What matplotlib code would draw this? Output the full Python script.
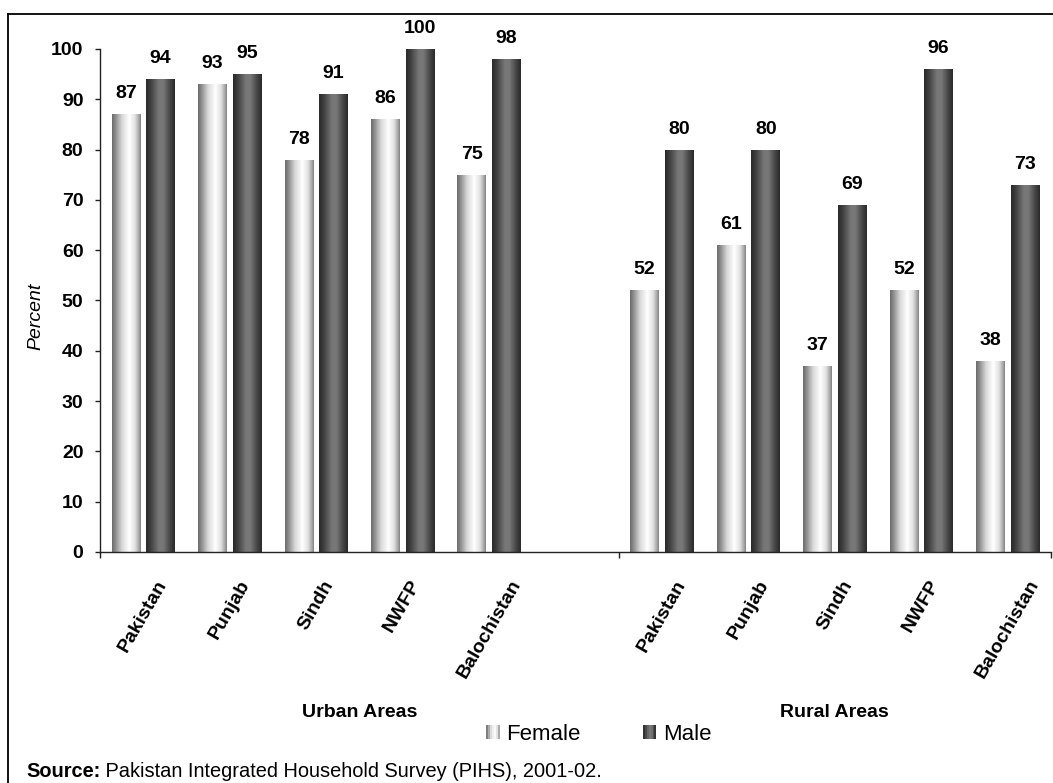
import numpy as np
import matplotlib
matplotlib.use("Agg")
import matplotlib.pyplot as plt
from matplotlib.lines import Line2D
from matplotlib.patches import Rectangle
from matplotlib.legend_handler import HandlerBase

plt.rcParams['font.family'] = ['Liberation Sans', 'DejaVu Sans']

# ---- data -------------------------------------------------------------
regions = ["Pakistan", "Punjab", "Sindh", "NWFP", "Balochistan"]
urban_female = [87, 93, 78, 86, 75]
urban_male = [94, 95, 91, 100, 98]
rural_female = [52, 61, 37, 52, 38]
rural_male = [80, 80, 69, 96, 73]
area_labels = ["Urban Areas", "Rural Areas"]
series_labels = ["Female", "Male"]
y_ticks = list(range(0, 101, 10))
source_bold = "Source:"
source_text = " Pakistan Integrated Household Survey (PIHS), 2001-02."

# ---- shading profiles (cylinder look) --------------------------------
female_stops = ([0.0, 0.12, 0.35, 0.6, 0.8, 0.95, 1.0],
                [0.42, 0.55, 0.85, 1.0, 0.88, 0.62, 0.5])
male_stops = ([0.0, 0.15, 0.45, 0.6, 0.85, 1.0],
              [0.16, 0.24, 0.47, 0.47, 0.26, 0.16])


def gradient(stops, n=256):
    pos, val = stops
    g = np.interp(np.linspace(0, 1, n), pos, val)
    return np.dstack([g, g, g])


female_grad = gradient(female_stops)
male_grad = gradient(male_stops)

W, H = 1053, 783
fig = plt.figure(figsize=(W / 100, H / 100), dpi=100)
ax = fig.add_axes([100 / W, 1 - 552 / H, (1051 - 100) / W, (552 - 49) / H])

x_urban = np.arange(5)
x_rural = np.arange(5) + 6
x_all = np.concatenate([x_urban, x_rural])
female = urban_female + rural_female
male = urban_male + rural_male

bw = 0.33
off = 0.2
bars_f = ax.bar(x_all - off, female, width=bw, facecolor='none', edgecolor='none', zorder=3)
bars_m = ax.bar(x_all + off, male, width=bw, facecolor='none', edgecolor='none', zorder=3)


def shade(bars, grad):
    for b in bars:
        x0, y0 = b.get_x(), b.get_y()
        w, h = b.get_width(), b.get_height()
        im = ax.imshow(grad, extent=[x0, x0 + w, y0, y0 + h], aspect='auto',
                       interpolation='bilinear', zorder=2)
        im.set_clip_path(b)


shade(bars_f, female_grad)
shade(bars_m, male_grad)

# value labels
for bars, vals in ((bars_f, female), (bars_m, male)):
    for b, v in zip(bars, vals):
        ax.annotate(f"{v}", xy=(b.get_x() + b.get_width() / 2, v),
                    xytext=(0, 11.5), textcoords='offset points',
                    ha='center', va='baseline', fontsize=14,
                    fontweight='bold', annotation_clip=False)

ax.set_xlim(-0.5, 10.5)
ax.set_ylim(0, 100)

# axes styling
for s in ('top', 'right'):
    ax.spines[s].set_visible(False)
for s in ('left', 'bottom'):
    ax.spines[s].set_linewidth(1.0)
    ax.spines[s].set_color('#222222')

ax.set_yticks(y_ticks)
ax.set_yticklabels([str(t) for t in y_ticks], fontsize=14, fontweight='bold')
ax.tick_params(axis='y', direction='out', length=3.6, width=1.0, pad=8.3, color='#222222')

ax.set_xticks(x_all)
ax.set_xticklabels(regions + regions, rotation=60, ha='center', va='top',
                   fontsize=14, fontweight='bold')
ax.tick_params(axis='x', which='major', length=0, pad=18)
ax.set_xticks([-0.5, 5.5, 10.5], minor=True)
ax.tick_params(axis='x', which='minor', direction='out', length=4.3, width=1.0, color='#222222')

ax.set_ylabel("Percent", fontsize=14, fontstyle='italic', labelpad=0)
ax.yaxis.set_label_coords(44 / W, 1 - 316 / H, transform=fig.transFigure)

# group labels under the category labels
trans = matplotlib.transforms.blended_transform_factory(ax.transData, fig.transFigure)
ax.text(2.5, 1 - 717 / H, area_labels[0], transform=trans, ha='center', va='baseline',
        fontsize=14, fontweight='bold')
ax.text(8.0, 1 - 717 / H, area_labels[1], transform=trans, ha='center', va='baseline',
        fontsize=14, fontweight='bold')


# legend with striped swatches
class StripeHandler(HandlerBase):
    def __init__(self, grad):
        super().__init__()
        self.grad = grad

    def create_artists(self, legend, orig_handle, xdescent, ydescent,
                       width, height, fontsize, trans):
        n = 7
        arts = []
        g = self.grad[0]
        for i in range(n):
            c = g[int((i + 0.5) / n * (len(g) - 1))]
            arts.append(Rectangle((-xdescent + i * width / n, -ydescent), width / n,
                                  height, facecolor=c, edgecolor='none', transform=trans))
        return arts


h_f = Rectangle((0, 0), 1, 1)
h_m = Rectangle((0, 0), 1, 1)
fig.legend([h_f, h_m], series_labels, loc='center',
           bbox_to_anchor=(599 / W, 1 - 734 / H), ncol=2, frameon=False,
           fontsize=16, handlelength=0.6, handleheight=0.6, handletextpad=0.3,
           columnspacing=2.8, borderpad=0,
           handler_map={h_f: StripeHandler(female_grad), h_m: StripeHandler(male_grad)})

# source note
t_src = fig.text(26 / W, 1 - 777 / H, source_bold, fontsize=14.4, fontweight='bold',
                 ha='left', va='baseline')
ax.annotate(source_text, xy=(1, 0), xycoords=t_src, xytext=(0, 0),
            textcoords='offset points', ha='left', va='bottom', fontsize=14.4,
            annotation_clip=False)

# outer frame
fig.add_artist(Line2D([8 / W, 1.0], [1 - 14 / H, 1 - 14 / H], transform=fig.transFigure,
                      color='black', linewidth=1.3))
fig.add_artist(Line2D([8 / W, 8 / W], [0.0, 1 - 14 / H], transform=fig.transFigure,
                      color='black', linewidth=1.3))

fig.savefig("out.png", dpi=100)
